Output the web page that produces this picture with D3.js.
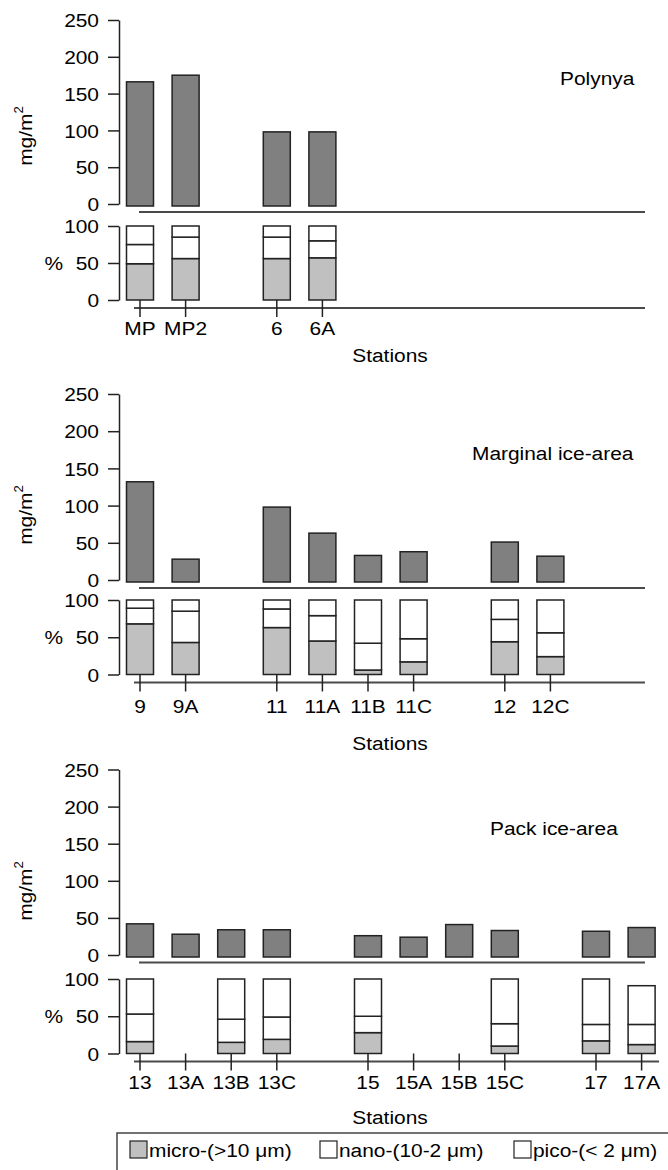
<!DOCTYPE html>
<html lang="en">
<head>
<meta charset="utf-8"/>
<title>Chlorophyll biomass and size fractions by station</title>
<script src="https://d3js.org/d3.v7.min.js"></script>
<style>
	body { margin: 0; background: #fff; }
	svg { display: block; }
</style>
</head>
<body>
<script>
// station names per area ("" = empty slot on the axis)
var polynyaStations = ["MP", "MP2", "", "6", "6A"];
var polynyaChl   = [166, 175, null, 98, 98];
var polynyaMicro = [49, 56, null, 56, 57];
var polynyaNano  = [26, 29, null, 29, 23];
var polynyaPico  = [25, 15, null, 15, 20];

var marginalStations = ["9", "9A", "", "11", "11A", "11B", "11C", "", "12", "12C"];
var marginalChl   = [132, 28, null, 98, 63, 33, 38, null, 51, 32];
var marginalMicro = [68, 43, null, 63, 45, 6, 17, null, 44, 24];
var marginalNano  = [21, 42, null, 25, 34, 36, 31, null, 30, 32];
var marginalPico  = [11, 15, null, 12, 21, 58, 52, null, 26, 44];

var packStations = ["13", "13A", "13B", "13C", "", "15", "15A", "15B", "15C", "", "17", "17A"];
var packChl   = [42, 28, 34, 34, null, 26, 24, 41, 33, null, 32, 37];
var packMicro = [16, null, 15, 19, null, 28, null, null, 10, null, 17, 12];
var packNano  = [37, null, 31, 30, null, 22, null, null, 30, null, 22, 27];
var packPico  = [47, null, 54, 51, null, 50, null, null, 60, null, 61, 52];

var areaNames = ["Polynya", "Marginal ice-area", "Pack ice-area"];
var mgTicks = [0, 50, 100, 150, 200, 250];
var pctTicks = [0, 50, 100];
var legendLabels = ["micro-(>10 \u03bcm)", "nano-(10-2 \u03bcm)", "pico-(< 2 \u03bcm)"];
var sizeKeys = ["micro", "nano", "pico"];

// layout of each panel (pixels)
var panels = [
	{stations: polynyaStations, chl: polynyaChl, micro: polynyaMicro, nano: polynyaNano, pico: polynyaPico,
	 y250: 20, y0: 204, p100: 226, p0: 300, line1: 212, line2: 308, lab: 335, stat: 362, tx: 560, ty: 85, end2: 645, ylab: 136},
	{stations: marginalStations, chl: marginalChl, micro: marginalMicro, nano: marginalNano, pico: marginalPico,
	 y250: 394, y0: 580, p100: 600, p0: 674.5, line1: 588, line2: 682.5, lab: 713, stat: 750, tx: 472, ty: 460, end2: 645, ylab: 515},
	{stations: packStations, chl: packChl, micro: packMicro, nano: packNano, pico: packPico,
	 y250: 769.5, y0: 955, p100: 979, p0: 1053.5, line1: 962.5, line2: 1061.5, lab: 1088.5, stat: 1124, tx: 490, ty: 835, end2: 659, ylab: 891}
];

var w = 668;
var h = 1170;
var FS = 19;   // font size
var SX = 1.1;  // the figure's lettering is a little wide
var font = "'Liberation Sans', Arial, Helvetica, sans-serif";
var ink = "#222";
var axisX = 119;
var barW = 27;
var fills = {micro: "#c0c0c0", nano: "#ffffff", pico: "#ffffff"};

var svg = d3.select("body")
	.append("svg")
	.attr("width", w)
	.attr("height", h);

// station slots share one scale in all three panels
var xScale = d3.scalePoint()
	.domain(d3.range(12))
	.range([140, 641.6]);

function wideText(x, y, str, anchor) {
	return svg.append("text")
		.attr("transform", "translate(" + x + "," + y + ") scale(" + SX + ",1)")
		.attr("text-anchor", anchor || "start")
		.attr("font-family", font)
		.attr("font-size", FS + "px")
		.attr("fill", "#000")
		.text(str);
}

function styleAxis(g) {
	g.attr("color", ink).attr("font-family", font).attr("font-size", FS + "px");
	g.selectAll("path, line").attr("stroke-width", 1.5);
	g.selectAll("text")
		.attr("x", -20 / SX)
		.attr("dy", "0.35em")
		.attr("fill", "#000")
		.attr("transform", "scale(" + SX + ",1)");
}

panels.forEach(function(p, pi) {
	var yMg = d3.scaleLinear().domain([0, 250]).range([p.y0, p.y250]);
	var yPct = d3.scaleLinear().domain([0, 100]).range([p.p0, p.p100]);

	// axes
	svg.append("g")
		.attr("transform", "translate(" + axisX + ",0)")
		.call(d3.axisLeft(yMg).tickValues(mgTicks).tickSize(11).tickSizeOuter(0))
		.call(styleAxis);
	svg.append("g")
		.attr("transform", "translate(" + axisX + ",0)")
		.call(d3.axisLeft(yPct).tickValues(pctTicks).tickSize(11).tickSizeOuter(0))
		.call(styleAxis);

	// axis titles
	var yl = svg.append("text")
		.attr("transform", "translate(32," + p.ylab + ") rotate(-90) scale(" + SX + ",1)")
		.attr("text-anchor", "middle")
		.attr("font-family", font)
		.attr("font-size", FS + "px")
		.attr("fill", "#000");
	yl.append("tspan").text("mg/m");
	yl.append("tspan").attr("font-size", "12px").attr("dy", "-0.75em").text("2");
	wideText(63, yPct(50) + 7, "%", "end");

	// the two horizontal rules
	svg.append("line")
		.attr("x1", 139).attr("x2", 645)
		.attr("y1", p.line1).attr("y2", p.line1)
		.attr("stroke", "#4a4a4a").attr("stroke-width", 2);
	svg.append("line")
		.attr("x1", 134).attr("x2", p.end2)
		.attr("y1", p.line2).attr("y2", p.line2)
		.attr("stroke", "#4a4a4a").attr("stroke-width", 2);

	var rows = p.stations.map(function(s, i) {
		return {i: i, name: s, chl: p.chl[i], micro: p.micro[i], nano: p.nano[i], pico: p.pico[i]};
	});
	var named = rows.filter(function(d) { return d.name !== ""; });

	// station ticks and names
	svg.selectAll(null)
		.data(named)
		.enter()
		.append("line")
		.attr("x1", function(d) { return xScale(d.i); })
		.attr("x2", function(d) { return xScale(d.i); })
		.attr("y1", p.p0)
		.attr("y2", p.line2 + 9)
		.attr("stroke", ink)
		.attr("stroke-width", 1.5);
	named.forEach(function(d) {
		wideText(xScale(d.i), p.lab, d.name, "middle");
	});
	wideText(390, p.stat, "Stations", "middle");
	wideText(p.tx, p.ty, areaNames[pi], "start");

	// chlorophyll bars
	svg.selectAll(null)
		.data(rows.filter(function(d) { return d.chl != null; }))
		.enter()
		.append("rect")
		.attr("x", function(d) { return xScale(d.i) - barW / 2; })
		.attr("y", function(d) { return yMg(d.chl); })
		.attr("width", barW)
		.attr("height", function(d) { return yMg(0) + 2 - yMg(d.chl); })
		.attr("fill", "#808080")
		.attr("stroke", ink)
		.attr("stroke-width", 1.5);

	// size fraction boxes
	var frac = rows.filter(function(d) { return d.micro != null; });
	var stacked = d3.stack().keys(sizeKeys)(frac);
	stacked.forEach(function(layer) {
		svg.selectAll(null)
			.data(layer)
			.enter()
			.append("rect")
			.attr("x", function(d) { return xScale(d.data.i) - barW / 2; })
			.attr("y", function(d) { return yPct(d[1]); })
			.attr("width", barW)
			.attr("height", function(d) { return yPct(d[0]) - yPct(d[1]); })
			.attr("fill", fills[layer.key])
			.attr("stroke", ink)
			.attr("stroke-width", 1.5);
	});
});

// legend
svg.append("rect")
	.attr("x", 117).attr("y", 1133)
	.attr("width", 600).attr("height", 80)
	.attr("fill", "none")
	.attr("stroke", "#444")
	.attr("stroke-width", 1.5);

var legendX = [130, 320, 514];
sizeKeys.forEach(function(k, i) {
	svg.append("rect")
		.attr("x", legendX[i]).attr("y", 1141)
		.attr("width", 17).attr("height", 17)
		.attr("fill", fills[k])
		.attr("stroke", ink)
		.attr("stroke-width", 1.2);
	wideText(legendX[i] + 19, 1157, legendLabels[i], "start");
});
</script>
</body>
</html>
